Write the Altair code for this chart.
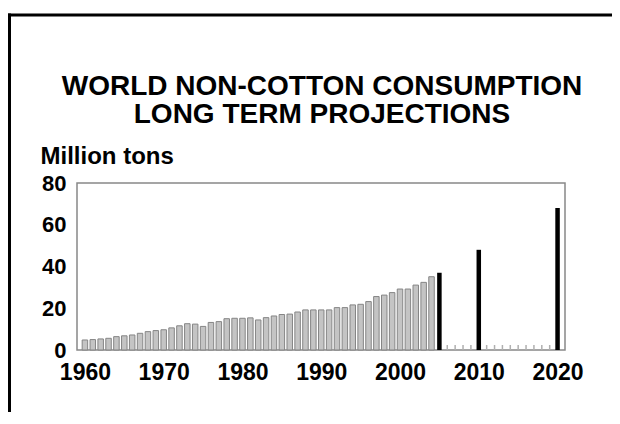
import altair as alt
import pandas as pd

# ---- data ----
hist_years = list(range(1960, 2005))
hist_values = [4.8, 5.0, 5.3, 5.6, 6.4, 6.8, 7.2, 8.0, 8.8, 9.3,
               9.7, 10.6, 11.6, 12.6, 12.4, 11.3, 13.2, 13.6, 15.0, 15.2,
               15.2, 15.4, 14.4, 15.5, 16.3, 17.0, 17.2, 18.2, 19.2, 19.2,
               19.2, 19.2, 20.3, 20.3, 21.6, 21.9, 23.2, 25.6, 26.3, 27.5,
               29.2, 29.2, 31.1, 32.4, 35.1]
proj_years = [2005, 2010, 2020]
proj_values = [37, 48, 68]
stub_years = [2006, 2007, 2008, 2009, 2011, 2012, 2013, 2014, 2015,
              2016, 2017, 2018, 2019]
x_ticks = [1960, 1970, 1980, 1990, 2000, 2010, 2020]
y_ticks = [0, 20, 40, 60, 80]
title_lines = ["WORLD NON-COTTON CONSUMPTION", "LONG TERM PROJECTIONS"]
y_title = "Million tons"

FONT = "Liberation Sans"
W, H = 488, 167

hist = pd.DataFrame({"year": hist_years, "value": hist_values})
proj = pd.DataFrame({"year": proj_years, "value": proj_values})
stubs_df = pd.DataFrame({"year": stub_years})
title_df = pd.DataFrame({"t": ["\n".join(title_lines)]})
frame_df = pd.DataFrame({"k": [0]})

x_scale = alt.Scale(domain=[1959.63, 2020.31], nice=False, zero=False)
y_scale = alt.Scale(domain=[0, 80], nice=False)

x_axis = alt.Axis(values=x_ticks, format="d", labelFont=FONT, labelFontSize=23,
                  labelFontWeight="bold", labelColor="black", tickSize=0,
                  domain=False, grid=False, labelPadding=11, title=None,
                  labelFlush=False, labelOverlap=False)
y_axis = alt.Axis(values=y_ticks, format="d", labelFont=FONT, labelFontSize=22,
                  labelFontWeight="bold", labelColor="black", tickSize=0,
                  domain=False, grid=False, labelPadding=11, labelFlush=False,
                  title=y_title, titleAngle=0, titleX=-37, titleY=-20,
                  titleAlign="left", titleBaseline="alphabetic", titleFont=FONT,
                  titleFontSize=24, titleFontWeight="bold", titleColor="black")

# outer border of the slide: only its left and top edges are visible
frame_top = alt.Chart(frame_df).mark_rule(color="black", strokeWidth=3).encode(
    x=alt.value(-69), x2=alt.value(545), y=alt.value(-168)
)
frame_left = alt.Chart(frame_df).mark_rule(color="black", strokeWidth=3).encode(
    x=alt.value(-67.5), y=alt.value(-169.5), y2=alt.value(260)
)

hist_bars = alt.Chart(hist).mark_bar(width=5.5, fill="#c4c4c4", stroke="#858585",
                                     strokeWidth=1).encode(
    x=alt.X("year:Q", scale=x_scale, axis=x_axis),
    y=alt.Y("value:Q", scale=y_scale, axis=y_axis),
)

proj_bars = alt.Chart(proj).mark_bar(width=4.5, color="black").encode(
    x=alt.X("year:Q", scale=x_scale),
    y=alt.Y("value:Q", scale=y_scale),
)

stubs = alt.Chart(stubs_df).mark_rule(color="#b0b0b0", strokeWidth=1.5).encode(
    x=alt.X("year:Q", scale=x_scale),
    y=alt.value(H),
    y2=alt.value(H - 5),
)

title = alt.Chart(title_df).mark_text(
    font=FONT, fontSize=28, fontWeight="bold", color="black", align="center",
    baseline="alphabetic", lineBreak="\n", lineHeight=28
).encode(text="t:N", x=alt.value(W / 2 + 1), y=alt.value(-88))

chart = alt.layer(frame_top, frame_left, hist_bars, proj_bars, stubs, title).properties(
    width=W, height=H,
    autosize=alt.AutoSizeParams(type="none"),
    padding={"left": 69, "top": 175, "right": 47, "bottom": 62},
    background="white",
).configure_view(stroke="#888888", strokeWidth=1.5)

chart.save("out.html", embed_options={"renderer": "svg", "actions": False})
